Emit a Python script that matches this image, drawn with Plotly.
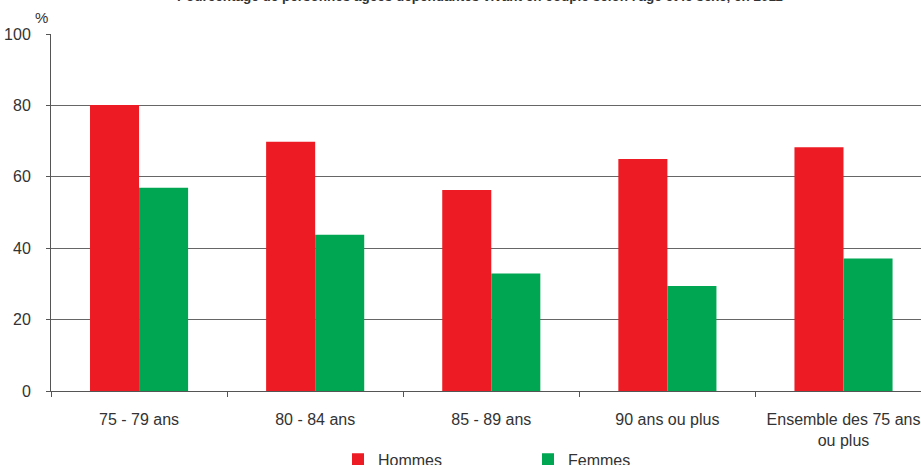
import plotly.graph_objects as go

categories = ["75 - 79 ans", "80 - 84 ans", "85 - 89 ans", "90 ans ou plus", "Ensemble des 75 ans<br>ou plus"]
hommes = [80.1, 69.8, 56.3, 65.0, 68.3]
femmes = [56.9, 43.8, 32.9, 29.4, 37.1]
y_ticks = [0, 20, 40, 60, 80, 100]
title_text = "Pourcentage de personnes âgées dépendantes vivant en couple selon l'âge et le sexe, en 2011"

FONT = "Liberation Sans Narrow, Arial Narrow, Liberation Sans, Arial, sans-serif"

fig = go.Figure()
fig.add_trace(go.Bar(name="Hommes", x=categories, y=hommes, marker_color="#ED1C24", marker_line_width=0))
fig.add_trace(go.Bar(name="Femmes", x=categories, y=femmes, marker_color="#00A651", marker_line_width=0))

fig.update_layout(
    width=921, height=465,
    margin=dict(l=51, r=0, t=34, b=74, autoexpand=False),
    paper_bgcolor="white", plot_bgcolor="white",
    barmode="group", bargap=0.443, bargroupgap=0,
    font=dict(family=FONT, size=15, color="#333333"),
    showlegend=True,
    legend=dict(orientation="h", x=0.367, xanchor="left", xref="container", y=0.012, yref="container",
                yanchor="middle", font=dict(size=16, color="#333333"), entrywidth=145, itemwidth=30,
                traceorder="normal"),
)
fig.update_xaxes(
    type="category", range=[-0.5, 4.44], tickson="boundaries", ticks="outside", ticklen=5,
    tickcolor="#555555", showline=True, linecolor="#555555", linewidth=1, showgrid=False,
    tickfont=dict(size=16, color="#333333"), ticklabelstandoff=14,
)
fig.update_yaxes(
    range=[0, 100], tickvals=y_ticks, ticks="outside", ticklen=4, tickcolor="#555555",
    showline=True, linecolor="#555555", linewidth=1, showgrid=True, gridcolor="#666666", gridwidth=1,
    zeroline=False, tickfont=dict(size=16, color="#333333"), ticklabelstandoff=12,
)
fig.add_annotation(text="%", xref="paper", yref="paper", x=0, y=1, xanchor="right", yanchor="bottom",
                   xshift=-1, yshift=6, showarrow=False, font=dict(size=15, color="#333333"))
fig.add_annotation(text="<b>" + title_text + "</b>", xref="paper", yref="paper", x=0.493, y=1,
                   xanchor="center", yanchor="middle", yshift=38, showarrow=False,
                   font=dict(size=13.5, color="#333333", family="Liberation Sans, Arial, sans-serif"))

fig.write_html("out.html")
